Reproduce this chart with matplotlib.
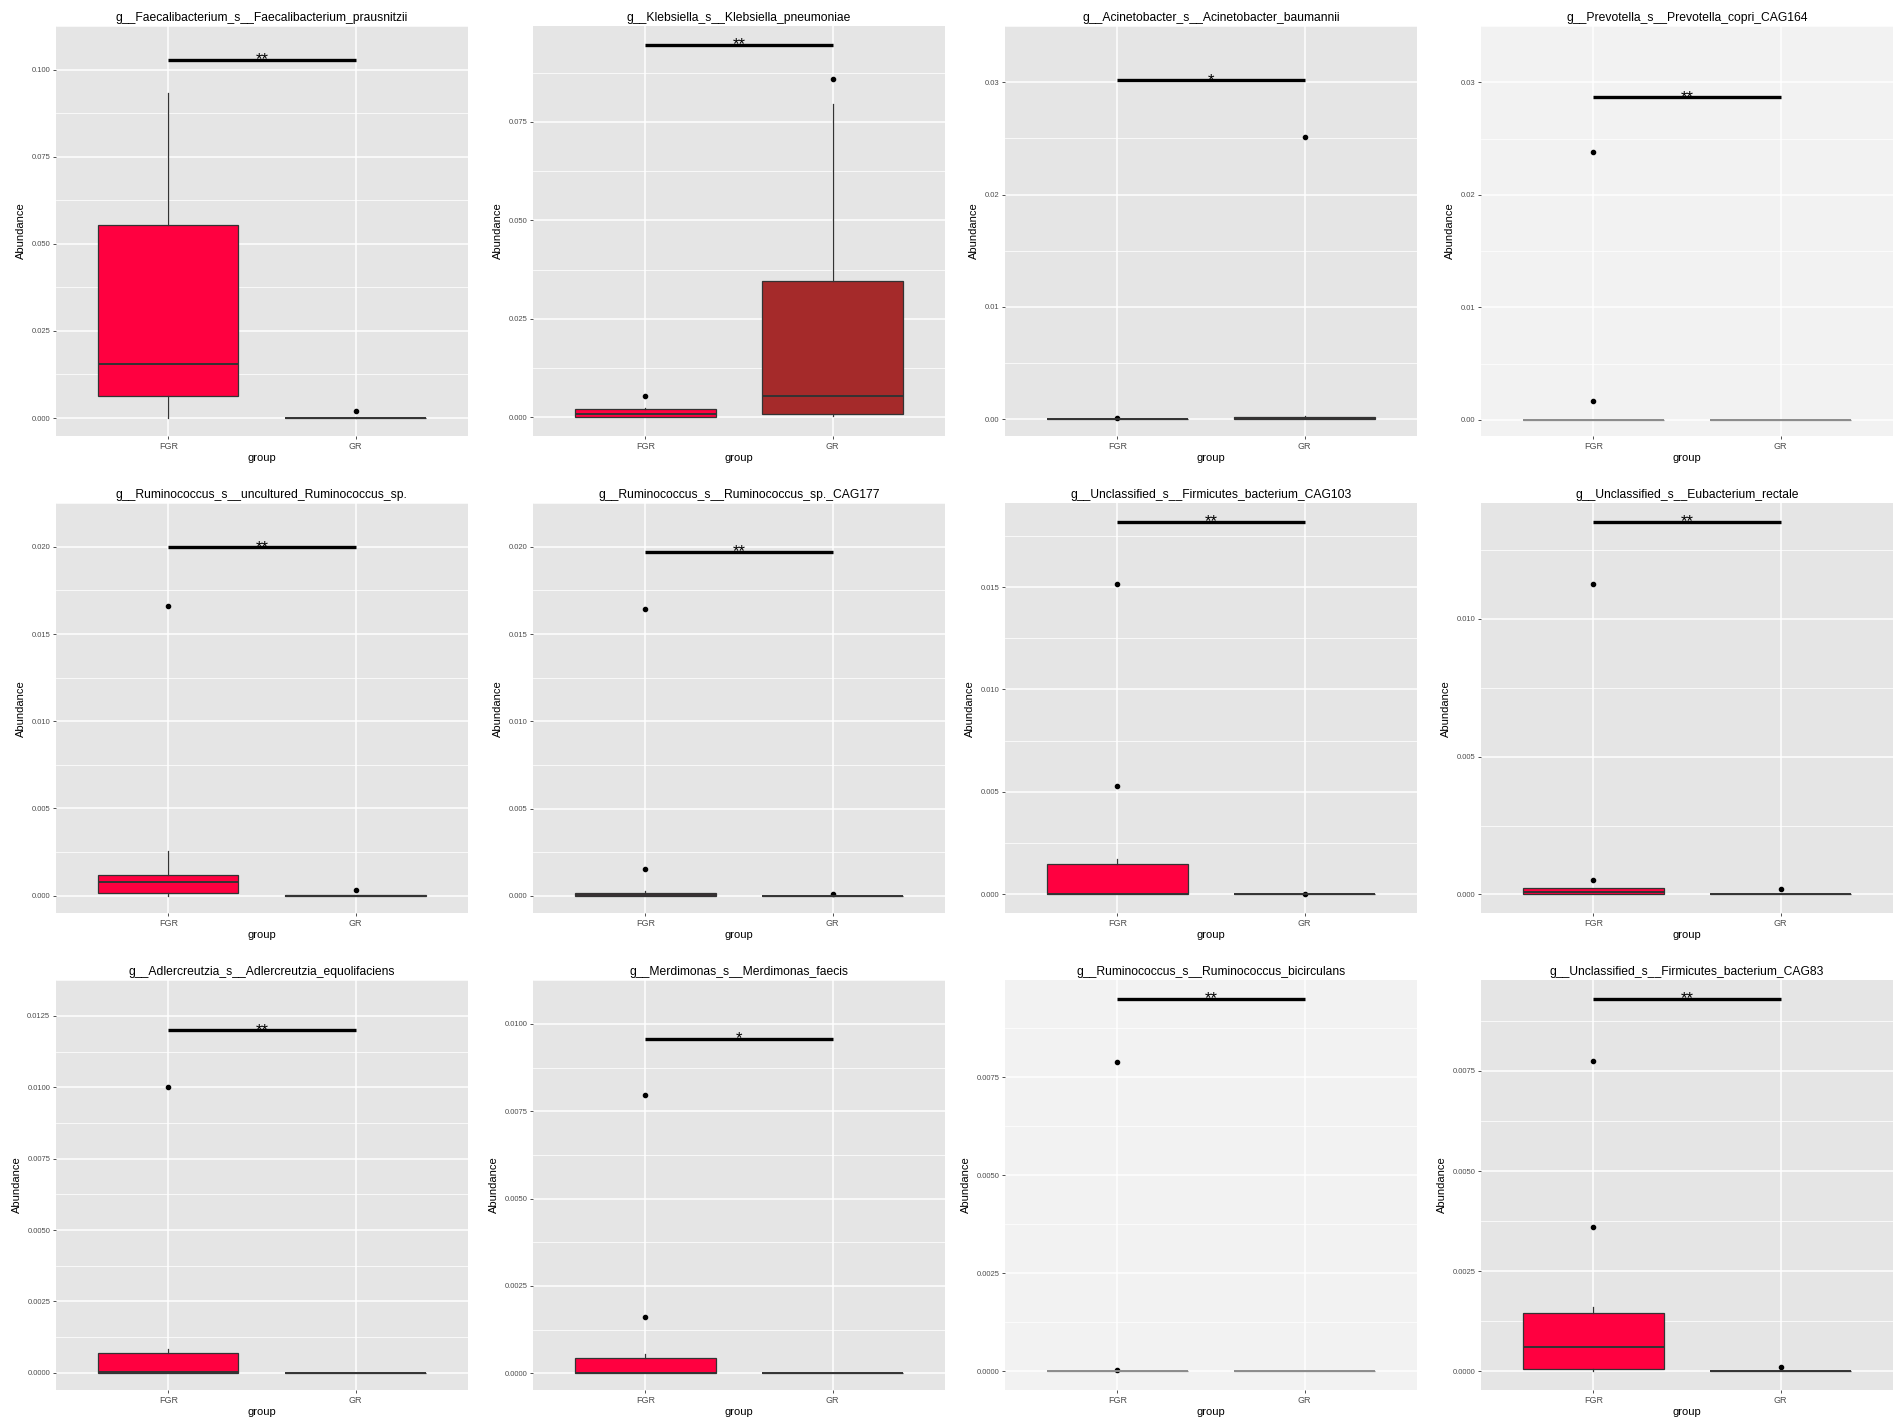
import matplotlib
matplotlib.use("Agg")
import matplotlib.pyplot as plt
import numpy as np

plt.rcParams['font.family'] = ['Liberation Sans', 'DejaVu Sans']

# judul tiap panel
titles = [
    "g__Faecalibacterium_s__Faecalibacterium_prausnitzii",
    "g__Klebsiella_s__Klebsiella_pneumoniae",
    "g__Acinetobacter_s__Acinetobacter_baumannii",
    "g__Prevotella_s__Prevotella_copri_CAG164",
    "g__Ruminococcus_s__uncultured_Ruminococcus_sp.",
    "g__Ruminococcus_s__Ruminococcus_sp._CAG177",
    "g__Unclassified_s__Firmicutes_bacterium_CAG103",
    "g__Unclassified_s__Eubacterium_rectale",
    "g__Adlercreutzia_s__Adlercreutzia_equolifaciens",
    "g__Merdimonas_s__Merdimonas_faecis",
    "g__Ruminococcus_s__Ruminococcus_bicirculans",
    "g__Unclassified_s__Firmicutes_bacterium_CAG83",
]
groups = ["FGR", "GR"]
signif = ["**", "**", "*", "**", "**", "**", "**", "**", "**", "*", "**", "**"]
bar_y = [0.1029, 0.0946, 0.0302, 0.0287, 0.01997, 0.01972,
         0.01818, 0.01352, 0.01199, 0.00957, 0.0095, 0.0093]
tick_step = [0.025, 0.025, 0.01, 0.01, 0.005, 0.005,
             0.005, 0.005, 0.0025, 0.0025, 0.0025, 0.0025]
tick_dec = [3, 3, 2, 2, 3, 3, 3, 3, 4, 4, 4, 4]

# (whislo, q1, med, q3, whishi)
fgr_box = [
    (0.0, 0.0064, 0.0156, 0.0553, 0.0934),
    (0.0, 0.0001, 0.0008, 0.0021, 0.0024),
    (0.0, 0.0, 0.0, 0.0, 0.0),
    (0.0, 0.0, 0.0, 0.0, 0.0),
    (0.0, 0.00018, 0.00077, 0.00118, 0.00255),
    (0.0, 0.0, 0.00005, 0.00019, 0.0003),
    (0.0, 0.0, 0.0, 0.00149, 0.00175),
    (0.0, 0.0, 0.00008, 0.00022, 0.00025),
    (0.0, 0.0, 0.00002, 0.00071, 0.00083),
    (0.0, 0.0, 0.00002, 0.00045, 0.00054),
    (0.0, 0.0, 0.0, 0.0, 0.0),
    (0.0, 0.00007, 0.00062, 0.00146, 0.0016),
]
fgr_out = [
    [], [0.0053], [0.00005], [0.0238, 0.0017], [0.01662], [0.01641, 0.00155],
    [0.01513, 0.00529], [0.01125, 0.00054], [0.0100], [0.00797, 0.00162],
    [0.0079, 0.00003], [0.00775, 0.00361],
]
gr_box = [
    (0.0, 0.0, 0.0, 0.0001, 0.0002),
    (0.0003, 0.0008, 0.0053, 0.0347, 0.0795),
    (0.0, 0.0, 0.0001, 0.0002, 0.0003),
    (0.0, 0.0, 0.0, 0.0, 0.0),
    (0.0, 0.0, 0.0, 0.00005, 0.00005),
    (0.0, 0.0, 0.0, 0.0, 0.0),
    (0.0, 0.0, 0.0, 0.0, 0.0),
    (0.0, 0.0, 0.0, 0.0, 0.0),
    (0.0, 0.0, 0.0, 0.0, 0.0),
    (0.0, 0.0, 0.0, 0.0, 0.0),
    (0.0, 0.0, 0.0, 0.0, 0.0),
    (0.0, 0.0, 0.0, 0.0, 0.0),
]
gr_out = [
    [0.0019], [0.0860], [0.0251], [], [0.00032], [0.0001],
    [0.00002], [0.00018], [], [], [], [0.0001],
]

fill_col = ["#FF0040", "#A52A2A"]
light = [False, False, False, True, False, False,
         False, False, False, False, True, False]

fig = plt.figure(figsize=(19.02, 14.28), dpi=100)
col_x = [0.0294, 0.2802, 0.5284, 0.7787]
row_y = [0.6947, 0.3606, 0.0266]
w, h = 0.2166, 0.2870

for i in range(12):
    r, c = divmod(i, 4)
    ax = fig.add_axes([col_x[c], row_y[r], w, h])
    ax.set_facecolor("#F2F2F2" if light[i] else "#E5E5E5")
    edge = "#8C8C8C" if light[i] else "#333333"

    stats = []
    for j, (b, o) in enumerate([(fgr_box[i], fgr_out[i]), (gr_box[i], gr_out[i])]):
        stats.append(dict(whislo=b[0], q1=b[1], med=b[2], q3=b[3], whishi=b[4],
                          fliers=o, label=groups[j]))
    res = ax.bxp(stats, positions=[1, 2], widths=0.75, patch_artist=True,
                 showcaps=False,
                 boxprops=dict(edgecolor=edge, linewidth=0.9),
                 medianprops=dict(color=edge, linewidth=1.4),
                 whiskerprops=dict(color=edge, linewidth=0.9),
                 flierprops=dict(marker='o', markerfacecolor='black',
                                 markeredgecolor='black', markersize=3))
    for patch, col in zip(res['boxes'], fill_col):
        patch.set_facecolor(col)

    # garis signifikansi
    ax.plot([1, 2], [bar_y[i], bar_y[i]], color='black', lw=2.4,
            solid_capstyle='butt', zorder=5)
    ax.annotate(signif[i], (1.5, bar_y[i]), xytext=(0, -5.5),
                textcoords='offset points', ha='center', va='bottom',
                fontsize=12, zorder=6)

    top = bar_y[i] * 1.05
    ax.set_xlim(0.4, 2.6)
    ax.set_ylim(-bar_y[i] * 0.05, top)
    step = tick_step[i]
    ticks = np.arange(0, top + 1e-12, step)
    ax.set_yticks(ticks)
    ax.set_yticklabels([f"{t:.{tick_dec[i]}f}" for t in ticks])
    ax.set_yticks(ticks + step / 2, minor=True)
    ax.set_xticks([1, 2])
    ax.set_xticklabels(groups)

    ax.set_axisbelow(True)
    ax.grid(which='major', color='white', lw=1.1)
    ax.grid(which='minor', axis='y', color='white', lw=0.55)
    for s in ax.spines.values():
        s.set_visible(False)
    ax.tick_params(which='minor', length=0)
    ax.tick_params(axis='y', labelsize=5.5, length=2.5, width=0.6,
                   color="#333333", labelcolor="#4D4D4D", pad=1.5)
    ax.tick_params(axis='x', labelsize=6.5, length=2.5, width=0.6,
                   color="#333333", labelcolor="#4D4D4D", pad=1.5)

    ax.set_title(titles[i], fontsize=8.7, pad=3.5)
    ax.set_xlabel("group", fontsize=8, labelpad=2)
    ax.set_ylabel("Abundance", fontsize=8, labelpad=4)

fig.savefig("out.png", dpi=100, facecolor="white")
